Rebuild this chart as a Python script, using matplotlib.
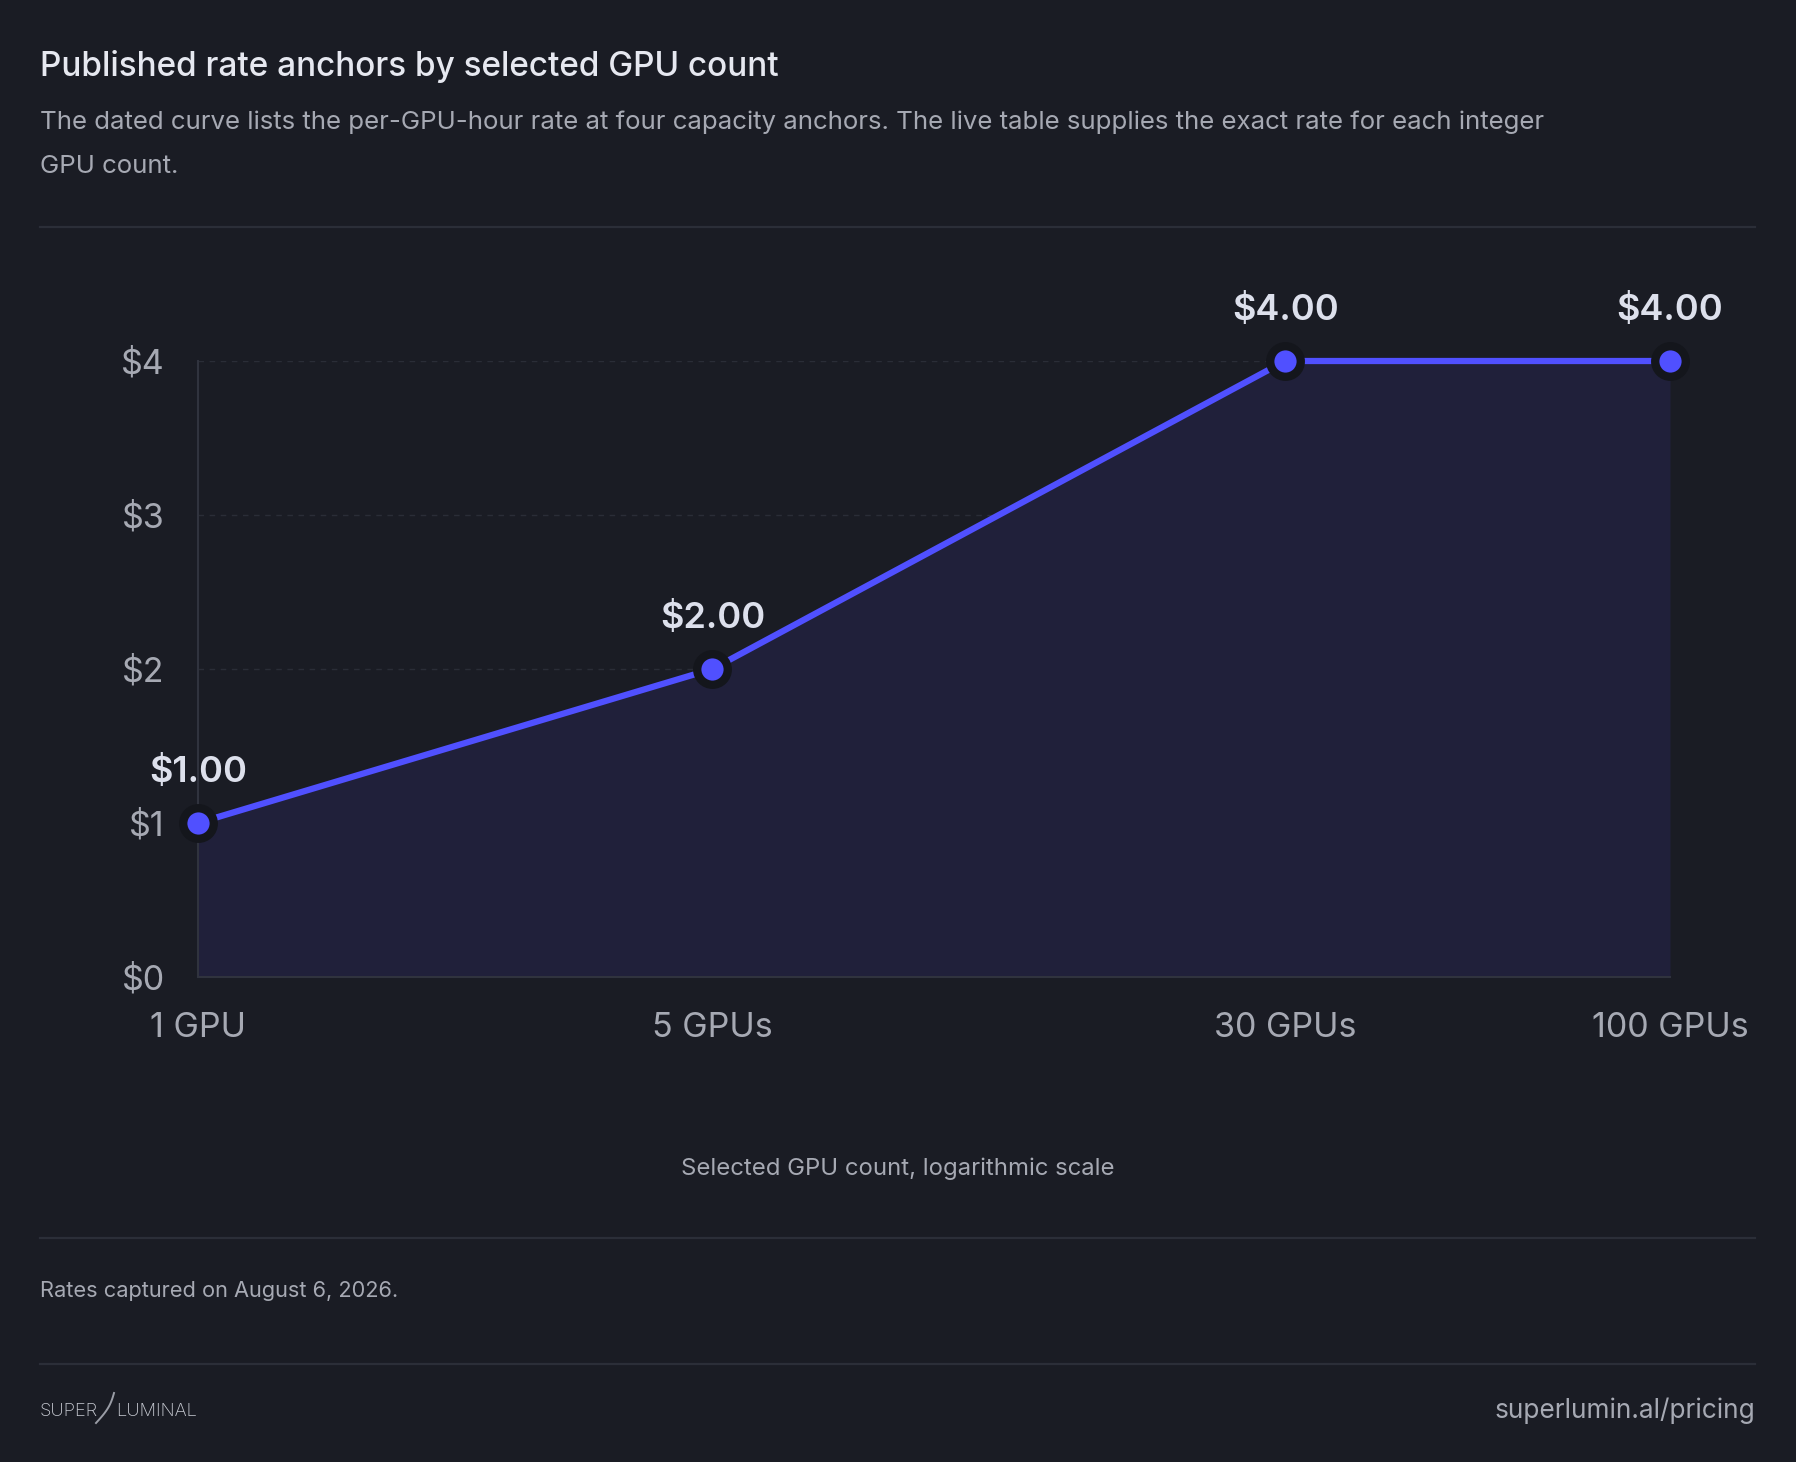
import matplotlib.pyplot as plt
from matplotlib.lines import Line2D
import numpy as np

# Data
gpu_counts = [1, 5, 30, 100]
rates = [1.00, 2.00, 4.00, 4.00]
x_tick_labels = ['1 GPU', '5 GPUs', '30 GPUs', '100 GPUs']
y_ticks = [0, 1, 2, 3, 4]
y_tick_labels = ['$0', '$1', '$2', '$3', '$4']

# Colours
BG = '#1a1c24'
FILL = '#20203a'
LINE = '#5050ff'
RING = '#14161c'
SEP = '#2b2e38'
TITLE_C = '#e6e8f0'
MUTED = '#a6a9b3'
LABEL_C = '#dde0ec'

plt.rcParams['font.family'] = ['Inter', 'DejaVu Sans']

W, H = 1796, 1462
fig = plt.figure(figsize=(W / 100, H / 100), dpi=100, facecolor=BG)


def fy(px):
    return 1 - px / H


def fx(px):
    return px / W


# Header
fig.text(fx(40), fy(76), 'Published rate anchors by selected GPU count',
         fontsize=24, color=TITLE_C, fontweight='medium', va='baseline')
fig.text(fx(40), fy(129),
         'The dated curve lists the per-GPU-hour rate at four capacity anchors. '
         'The live table supplies the exact rate for each integer',
         fontsize=18.6, color=MUTED, va='baseline')
fig.text(fx(40), fy(173), 'GPU count.', fontsize=18.6, color=MUTED, va='baseline')

# Separators
for y in [227, 1238, 1364]:
    fig.add_artist(Line2D([fx(40), fx(1755)], [fy(y), fy(y)],
                          color=SEP, lw=1.6, transform=fig.transFigure))

# Chart
ax = fig.add_axes([fx(198), fy(977), fx(1670 - 198), (977 - 361) / H])
ax.set_facecolor(BG)
ax.set_xscale('log')
ax.set_xlim(gpu_counts[0], gpu_counts[-1])
ax.set_ylim(0, 4)

ax.fill_between(gpu_counts, 0, rates, color=FILL, lw=0, zorder=1)
for yv in y_ticks[1:]:
    ax.axhline(yv, color='#2a2d37', lw=1, ls=(0, (4, 4)), zorder=0.5)
ax.plot(gpu_counts, rates, color=LINE, lw=4.5, zorder=3,
        marker='o', markersize=22, markerfacecolor=LINE,
        markeredgecolor=RING, markeredgewidth=6, clip_on=False)

for x, r in zip(gpu_counts, rates):
    ax.annotate(f'${r:.2f}', (x, r), xytext=(0, 29.5), textcoords='offset points',
                ha='center', va='baseline', fontsize=26, fontweight='semibold',
                color=LABEL_C, zorder=5, annotation_clip=False)

ax.set_xticks(gpu_counts)
ax.set_xticklabels(x_tick_labels)
ax.minorticks_off()
ax.set_yticks(y_ticks)
ax.set_yticklabels(y_tick_labels)
ax.tick_params(axis='both', length=0, labelsize=24.5, labelcolor=MUTED)
ax.tick_params(axis='y', pad=24)
ax.tick_params(axis='x', pad=25)

for side in ['top', 'right']:
    ax.spines[side].set_visible(False)
ax.spines['left'].set_color('#30333e')
ax.spines['bottom'].set_color('#30333e')
ax.spines['left'].set_linewidth(1.5)
ax.spines['bottom'].set_linewidth(1.5)

fig.text(0.5, fy(1175), 'Selected GPU count, logarithmic scale',
         fontsize=17.2, color=MUTED, ha='center', va='baseline')

# Footer
fig.text(fx(40), fy(1297), 'Rates captured on August 6, 2026.',
         fontsize=15.7, color=MUTED, va='baseline')

fig.text(fx(40), fy(1416), 'SUPER', fontsize=13.2, color='#c9ccd4',
         fontweight='light', va='baseline')
fig.text(fx(116), fy(1416), 'LUMINAL', fontsize=13.2, color='#c9ccd4',
         fontweight='light', va='baseline')
t = np.linspace(0, 1, 40)
sx = 96 + 18 * t + 3 * np.sin(np.pi * t)
sy = 1423 - 30 * t
fig.add_artist(Line2D(fx(sx), fy(sy), color='#9a9da6', lw=1.4,
                      transform=fig.transFigure))

fig.text(fx(1755), fy(1418), 'superlumin.al/pricing', fontsize=18.9,
         color=MUTED, ha='right', va='baseline')

fig.savefig('out.png', dpi=100, facecolor=BG)
